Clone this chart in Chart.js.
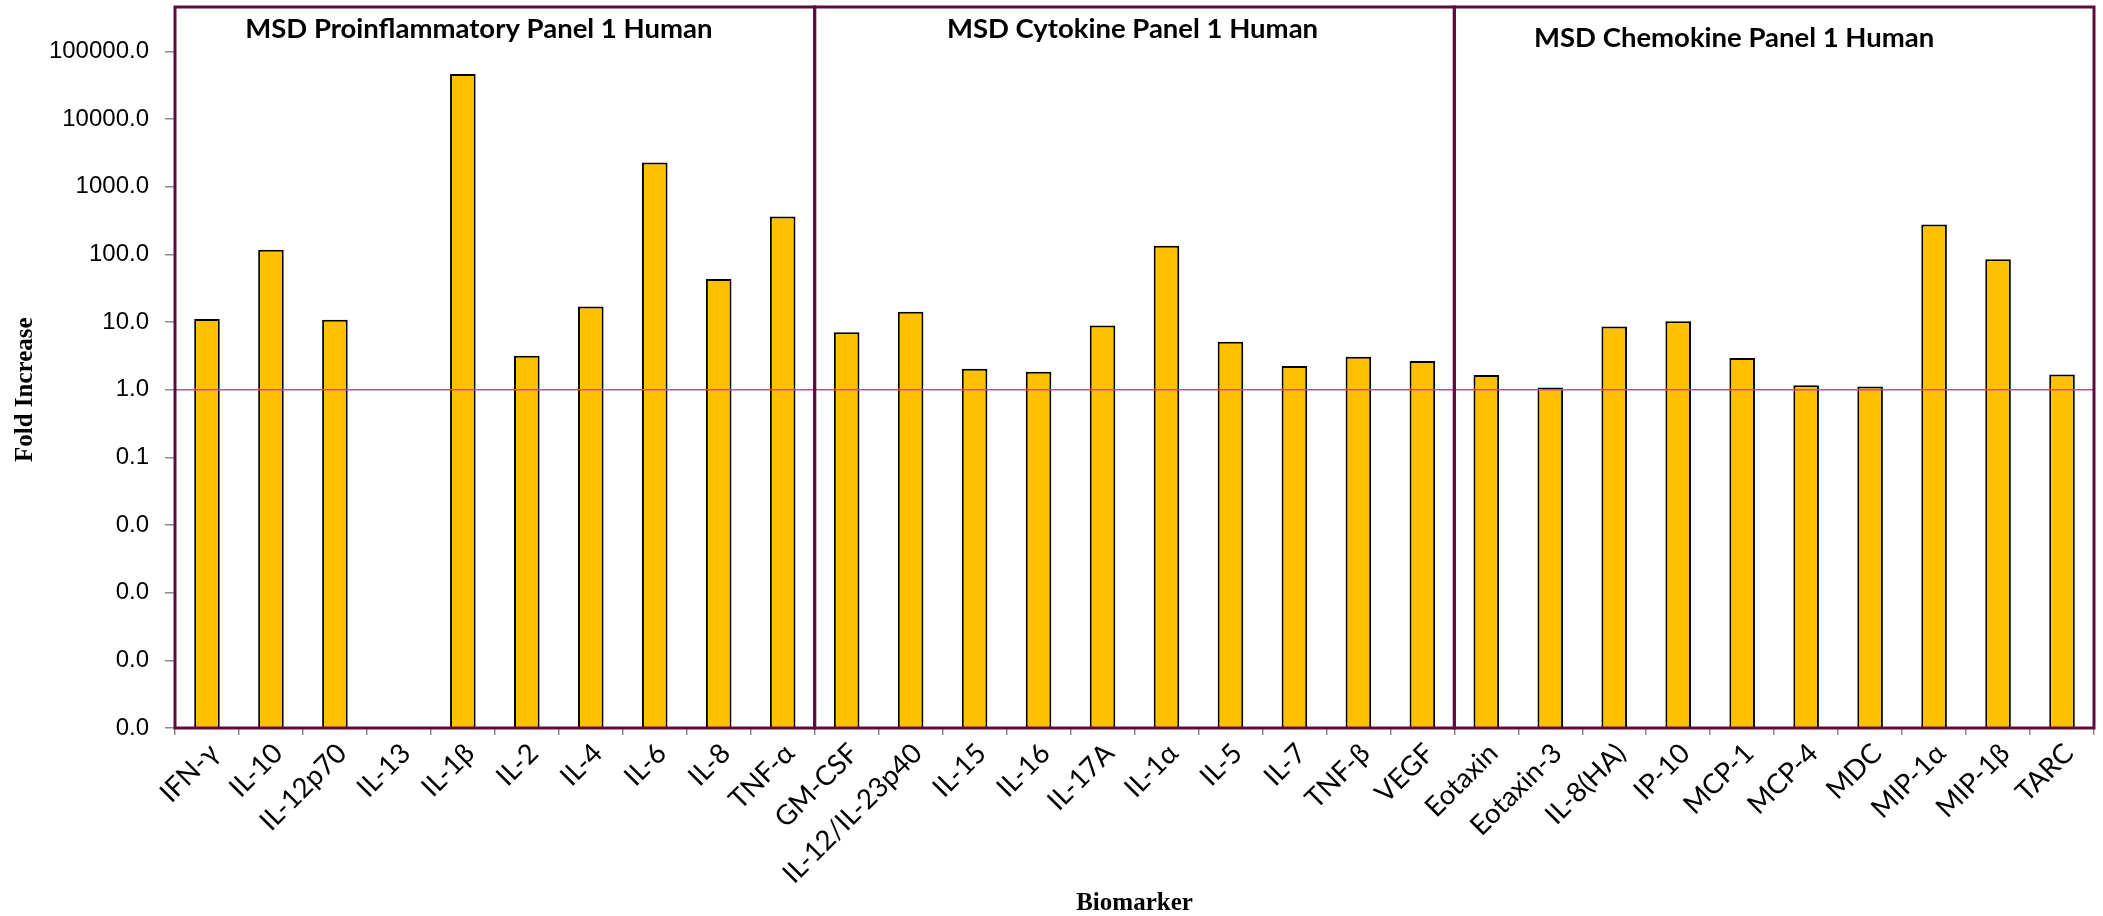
<!DOCTYPE html>
<html>
<head>
<meta charset="utf-8">
<title>MSD panels – fold increase by biomarker</title>
<script src="https://cdn.jsdelivr.net/npm/chart.js@4.4.1/dist/chart.umd.min.js"></script>
<style>
  html, body { margin: 0; padding: 0; background: #ffffff; }
  #wrap { width: 2103px; height: 916px; }
</style>
</head>
<body>
<div id="wrap"><canvas id="chart" width="2103" height="916"></canvas></div>
<script>
// Biomarkers in panel order (10 per MSD panel)
const biomarkers = [
  'IFN-γ', 'IL-10', 'IL-12p70', 'IL-13', 'IL-1β', 'IL-2', 'IL-4', 'IL-6', 'IL-8', 'TNF-α',
  'GM-CSF', 'IL-12/IL-23p40', 'IL-15', 'IL-16', 'IL-17A', 'IL-1α', 'IL-5', 'IL-7', 'TNF-β', 'VEGF',
  'Eotaxin', 'Eotaxin-3', 'IL-8(HA)', 'IP-10', 'MCP-1', 'MCP-4', 'MDC', 'MIP-1α', 'MIP-1β', 'TARC'
];

// Fold increase per biomarker (IL-13 not reported)
const proinflammatoryFold = [11.1, 117, 10.8, null, 46500, 3.18, 17.0, 2280, 43.2, 363];
const cytokineFold        = [7.1, 14.2, 2.04, 1.84, 8.9, 134, 5.12, 2.24, 3.07, 2.65];
const chemokineFold       = [1.65, 1.08, 8.6, 10.3, 2.94, 1.17, 1.12, 277, 85.2, 1.68];

const panelNames = ['MSD Proinflammatory Panel 1 Human', 'MSD Cytokine Panel 1 Human', 'MSD Chemokine Panel 1 Human'];
const panelSizes = [proinflammatoryFold.length, cytokineFold.length, chemokineFold.length];

// Decade ticks of the log axis
const yTickValues = [100000, 10000, 1000, 100, 10, 1, 0.1, 0.01, 0.001, 0.0001, 0.00001];
const baselineFold = 1;

const foldIncrease = [...proinflammatoryFold, ...cytokineFold, ...chemokineFold];

const BOX_COLOR = '#5E0B3E';
const BAR_COLOR = '#FFC000';
const BASELINE_COLOR = '#E040A0';

// Framed panel groups, their headings and the 1.0 reference line
const panelPlugin = {
  id: 'panelFrames',
  afterDatasetsDraw(chart) {
    const { ctx, chartArea, scales: { x, y } } = chart;
    ctx.save();

    // reference line at fold = 1
    const yb = y.getPixelForValue(baselineFold);
    ctx.strokeStyle = BASELINE_COLOR;
    ctx.lineWidth = 1.5;
    ctx.beginPath();
    ctx.moveTo(chartArea.left, yb);
    ctx.lineTo(chartArea.right, yb);
    ctx.stroke();

    // frames around each panel
    const half = (x.getPixelForValue(1) - x.getPixelForValue(0)) / 2;
    const frameTop = chartArea.top - 44.5;
    const headingShift = [{ dx: -16, dy: 30.5 }, { dx: -2, dy: 31 }, { dx: -40, dy: 40 }];
    let start = 0;
    panelSizes.forEach((n, i) => {
      const left = x.getPixelForValue(start) - half;
      const right = x.getPixelForValue(start + n - 1) + half;
      ctx.strokeStyle = BOX_COLOR;
      ctx.lineWidth = 3;
      ctx.strokeRect(left, frameTop, right - left, chartArea.bottom - frameTop);

      ctx.fillStyle = '#000000';
      ctx.font = 'bold 27.5px Lato';
      ctx.textAlign = 'center';
      ctx.textBaseline = 'alphabetic';
      ctx.fillText(panelNames[i], (left + right) / 2 + headingShift[i].dx, frameTop + headingShift[i].dy);
      start += n;
    });
    ctx.restore();
  }
};

new Chart(document.getElementById('chart'), {
  type: 'bar',
  data: {
    labels: biomarkers,
    datasets: [{
      label: 'Fold Increase',
      data: foldIncrease,
      backgroundColor: BAR_COLOR,
      borderColor: '#000000',
      borderWidth: 2,
      borderSkipped: 'bottom',
      categoryPercentage: 1.0,
      barPercentage: 0.4
    }]
  },
  options: {
    responsive: false,
    animation: false,
    devicePixelRatio: 1,
    layout: { padding: { top: 51.5, right: 9, bottom: 0, left: 0 } },
    plugins: {
      legend: { display: false },
      tooltip: { enabled: false }
    },
    scales: {
      x: {
        type: 'category',
        offset: true,
        grid: { display: true, offset: true, drawOnChartArea: false, tickLength: 7, color: '#8c8c8c', lineWidth: 1.5 },
        border: { display: false },
        ticks: {
          autoSkip: false,
          maxRotation: 45,
          minRotation: 45,
          color: '#000000',
          padding: 2,
          labelOffset: 7,
          font: { family: 'Lato', size: 27.5 }
        },
        title: {
          display: true,
          text: 'Biomarker',
          color: '#000000',
          font: { family: 'Liberation Serif', size: 25, weight: 'bold' },
          padding: { top: 0, bottom: -3 }
        },
        afterFit(scale) { scale.height = 188; }
      },
      y: {
        type: 'logarithmic',
        min: 0.00001,
        max: 100000,
        afterBuildTicks(scale) { scale.ticks = yTickValues.map(v => ({ value: v })); },
        grid: { display: true, drawOnChartArea: false, tickLength: 10, color: '#8c8c8c', lineWidth: 1.5 },
        border: { display: false },
        ticks: {
          color: '#000000',
          padding: 16,
          font: { family: 'Liberation Sans', size: 24 },
          callback: (v) => Number(v).toFixed(1)
        },
        title: {
          display: true,
          text: 'Fold Increase',
          color: '#000000',
          font: { family: 'Liberation Serif', size: 25, weight: 'bold' },
          padding: { top: 11, bottom: 0 }
        },
        afterFit(scale) { scale.width = 175; }
      }
    }
  },
  plugins: [panelPlugin]
});
</script>
</body>
</html>
